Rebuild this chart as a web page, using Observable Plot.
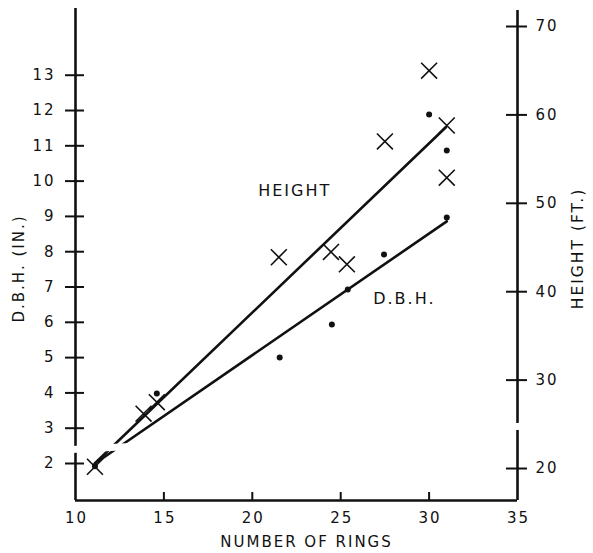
<!DOCTYPE html>
<html><head><meta charset="utf-8">
<script src="https://cdn.jsdelivr.net/npm/d3@7"></script>
<script src="https://cdn.jsdelivr.net/npm/@observablehq/plot@0.6"></script>
<style>html,body{margin:0;padding:0;background:#fff} svg{display:block} svg text{letter-spacing:2px}</style>
</head><body><div id="chart"></div>
<script>
// ---- data ----
const heightRings = [11.1, 13.85, 14.6, 21.5, 24.45, 25.35, 27.5, 30.0, 31.0, 31.0];
const heightFt    = [20.2, 26.2, 27.5, 43.9, 44.5, 43.1, 57.0, 65.0, 58.8, 52.9];
const dbhRings = [11.1, 14.6, 21.55, 24.5, 25.4, 27.45, 30.0, 31.0, 31.0];
const dbhIn    = [1.92, 3.98, 5.0, 5.94, 6.93, 7.92, 11.89, 10.87, 8.97];
const heightFitRings = [11.1, 30.95];
const heightFitFt    = [20.6, 58.6];
const dbhFitRings = [11.1, 31.0];
const dbhFitIn    = [2.0, 8.86];
const ringTicks = [10, 15, 20, 25, 30, 35];
const dbhTicks = [2, 3, 4, 5, 6, 7, 8, 9, 10, 11, 12, 13];
const heightTicks = [20, 30, 40, 50, 60, 70];
const xTitle = "NUMBER OF RINGS";
const yLeftTitle = "D.B.H. (IN.)";
const yRightTitle = "HEIGHT (FT.)";
const lineLabels = ["HEIGHT", "D.B.H."];
const lineLabelRings = [22.4, 28.6];
const lineLabelDbh = [9.73, 6.67];
// scale break (in ring / inch units)
const breakRings = [9.8, 35.2];
const breakDbh = [2.395, 3.055];

// ---- scales ----
const ringDomain = [10, 35];
const dbhDomain = [0.952, 14.89];
// right-hand height axis expressed in the left (D.B.H.) units
const h2d = d3.scaleLinear().domain([20, 70]).range([1.858, 14.38]);

const heightPts = heightRings.map((r, i) => ({r, h: heightFt[i]}));
const dbhPts = dbhRings.map((r, i) => ({r, d: dbhIn[i]}));
const heightFit = heightFitRings.map((r, i) => ({r, h: heightFitFt[i]}));
const dbhFit = dbhFitRings.map((r, i) => ({r, d: dbhFitIn[i]}));
const brk = breakRings.map((r, i) => ({r, d: breakDbh[i]}));
const labels = lineLabels.map((t, i) => ({t, r: lineLabelRings[i], d: lineLabelDbh[i]}));

const ink = "#111";
const font = "'DejaVu Sans', sans-serif";
const sw = 2.6;

const chart = Plot.plot({
  width: 593, height: 553,
  marginLeft: 75, marginRight: 76, marginTop: 8, marginBottom: 53,
  x: {domain: ringDomain, axis: null},
  y: {domain: dbhDomain, axis: null},
  style: {fontFamily: font, fontSize: "15px", color: ink, background: "white", overflow: "visible"},
  marks: [
    // regression lines
    Plot.line(heightFit, {x: "r", y: d => h2d(d.h), stroke: ink, strokeWidth: sw}),
    Plot.line(dbhFit, {x: "r", y: "d", stroke: ink, strokeWidth: sw}),
    // axis lines
    Plot.ruleX([ringDomain[0]], {stroke: ink, strokeWidth: sw}),
    Plot.ruleX([ringDomain[1]], {stroke: ink, strokeWidth: sw, insetTop: 2}),
    Plot.ruleY([dbhDomain[0]], {stroke: ink, strokeWidth: sw}),
    // left ticks (crossing the axis)
    Plot.ruleY(dbhTicks, {y: d => d, x1: () => ringDomain[0], x2: () => ringDomain[0], insetLeft: -10, insetRight: -9, stroke: ink, strokeWidth: 2}),
    // right ticks
    Plot.ruleY(heightTicks, {y: d => h2d(d), x1: () => ringDomain[1], x2: () => ringDomain[1], insetLeft: -11, insetRight: -10, stroke: ink, strokeWidth: 2}),
    // bottom ticks (inside)
    Plot.ruleX(ringTicks.slice(1, -1), {x: d => d, y1: () => dbhDomain[0], y2: () => dbhDomain[0], insetTop: -8, stroke: ink, strokeWidth: 2}),
    // scale break
    Plot.line(brk, {x: "r", y: "d", stroke: "white", strokeWidth: 7}),
    // tick labels
    Plot.text(dbhTicks, {x: () => ringDomain[0], y: d => d, text: d => String(d), textAnchor: "end", dx: -20, fill: ink, fontSize: 15}),
    Plot.text(heightTicks, {x: () => ringDomain[1], y: d => h2d(d), text: d => String(d), textAnchor: "start", dx: 18, fill: ink, fontSize: 15}),
    Plot.text(ringTicks, {x: d => d, y: () => dbhDomain[0], text: d => String(d), dy: 18, dx: 1, fill: ink, fontSize: 15}),
    // axis titles
    Plot.text([xTitle], {frameAnchor: "bottom", textAnchor: "middle", lineAnchor: "middle", text: d => d, dy: 42, dx: 10, fill: ink, fontSize: 15}),
    Plot.text([yLeftTitle], {frameAnchor: "left", textAnchor: "middle", lineAnchor: "middle", text: d => d, rotate: -90, dx: -56, dy: 14, fill: ink, fontSize: 15}),
    Plot.text([yRightTitle], {frameAnchor: "right", textAnchor: "middle", lineAnchor: "middle", text: d => d, rotate: -90, dx: 61, dy: -6, fill: ink, fontSize: 15.5}),
    // line labels
    Plot.text(labels, {x: "r", y: "d", text: "t", fill: ink, fontSize: 16}),
    // points
    Plot.dot(dbhPts, {x: "r", y: "d", r: 3, fill: ink, stroke: null}),
    Plot.dot(heightPts, {x: "r", y: d => h2d(d.h), symbol: "times", r: 7.3, stroke: ink, strokeWidth: 1.6, fill: "none"})
  ]
});
document.getElementById("chart").appendChild(chart);
</script>
</body></html>
